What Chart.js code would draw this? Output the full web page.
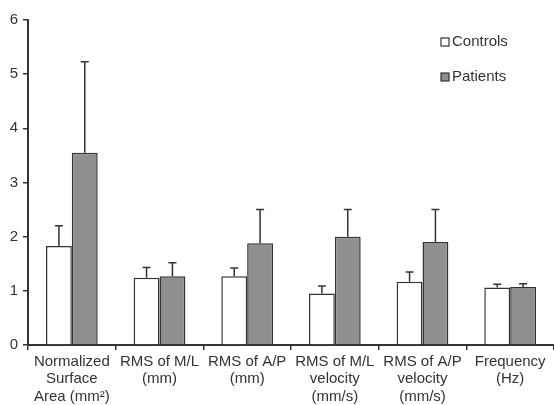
<!DOCTYPE html>
<html><head><meta charset="utf-8">
<script src="https://cdn.jsdelivr.net/npm/chart.js@4"></script>
<style>html,body{margin:0;padding:0;background:#fff}#wrap{width:554px;height:405px}</style>
</head><body><div id="wrap"><canvas id="c"></canvas></div>
<script>
const categories = [
  ["Normalized","Surface","Area (mm²)"],
  ["RMS of M/L","(mm)"],
  ["RMS of A/P","(mm)"],
  ["RMS of M/L","velocity","(mm/s)"],
  ["RMS of A/P","velocity","(mm/s)"],
  ["Frequency","(Hz)"]
];
const controls = [1.83, 1.24, 1.27, 0.95, 1.17, 1.06];
const controlsSD = [0.37, 0.19, 0.15, 0.14, 0.18, 0.06];
const patients = [3.55, 1.27, 1.88, 2.00, 1.90, 1.07];
const patientsSD = [1.68, 0.25, 0.62, 0.50, 0.60, 0.06];
const yTicks = [0,1,2,3,4,5,6];
const seriesNames = ["Controls","Patients"];

const FONT = "'Liberation Sans', Arial, sans-serif";
const TXT = '#333';

const errorBars = {
  id:'errorBars',
  afterDatasetsDraw(chart){
    const ctx = chart.ctx, y = chart.scales.y;
    const sds = [controlsSD, patientsSD];
    chart.data.datasets.forEach((ds,i)=>{
      const meta = chart.getDatasetMeta(i);
      meta.data.forEach((bar,j)=>{
        const top = y.getPixelForValue(ds.data[j]);
        const up = y.getPixelForValue(ds.data[j] + sds[i][j]);
        ctx.save();
        ctx.strokeStyle = '#333'; ctx.lineWidth = 1.5;
        ctx.beginPath();
        ctx.moveTo(bar.x, top); ctx.lineTo(bar.x, up);
        ctx.moveTo(bar.x-4, up); ctx.lineTo(bar.x+4, up);
        ctx.stroke();
        ctx.restore();
      });
    });
  }
};

const legendBox = {
  id:'legendBox',
  afterDraw(chart){
    const ctx = chart.ctx;
    const fills = ['#ffffff','#8f8f8f'];
    const ys = [42, 77];
    ctx.save();
    ctx.font = '15px ' + FONT;
    ctx.textBaseline = 'middle';
    seriesNames.forEach((n,i)=>{
      ctx.fillStyle = fills[i];
      ctx.fillRect(441, ys[i]-4, 8, 8);
      ctx.strokeStyle = '#333'; ctx.lineWidth = 1.2;
      ctx.strokeRect(441, ys[i]-4, 8, 8);
      ctx.fillStyle = TXT;
      ctx.fillText(n, 452, ys[i]);
    });
    ctx.restore();
  }
};

new Chart(document.getElementById('c'), {
  type:'bar',
  data:{
    labels: categories,
    datasets:[
      {label:seriesNames[0], data:controls, backgroundColor:'#ffffff', borderColor:'#333', borderWidth:1.5, borderSkipped:'bottom'},
      {label:seriesNames[1], data:patients, backgroundColor:'#8f8f8f', borderColor:'#333', borderWidth:1.5, borderSkipped:'bottom'}
    ]
  },
  options:{
    responsive:true, maintainAspectRatio:false, animation:false,
    layout:{padding:{top:20,right:0,left:0,bottom:0}},
    plugins:{legend:{display:false}, tooltip:{enabled:false}},
    datasets:{bar:{categoryPercentage:0.59, barPercentage:1.0}},
    scales:{
      x:{
        grid:{offset:true, drawOnChartArea:false, drawTicks:true, tickLength:5, color:'#333', lineWidth:1.5},
        border:{display:true, color:'#333', width:2},
        ticks:{color:TXT, font:{family:FONT, size:15, lineHeight:1.17}, maxRotation:0, autoSkip:false, padding:3},
        afterFit(s){ s.height = 60; }
      },
      y:{
        min:0, max:6,
        afterBuildTicks(s){ s.ticks = yTicks.map(v=>({value:v})); },
        grid:{drawOnChartArea:false, drawTicks:true, tickLength:5, color:'#333', lineWidth:1.5},
        border:{display:true, color:'#333', width:2},
        ticks:{color:TXT, font:{family:FONT, size:15}, padding:5},
        afterFit(s){ s.width = 28; }
      }
    }
  },
  plugins:[errorBars, legendBox]
});
</script>
</body></html>
